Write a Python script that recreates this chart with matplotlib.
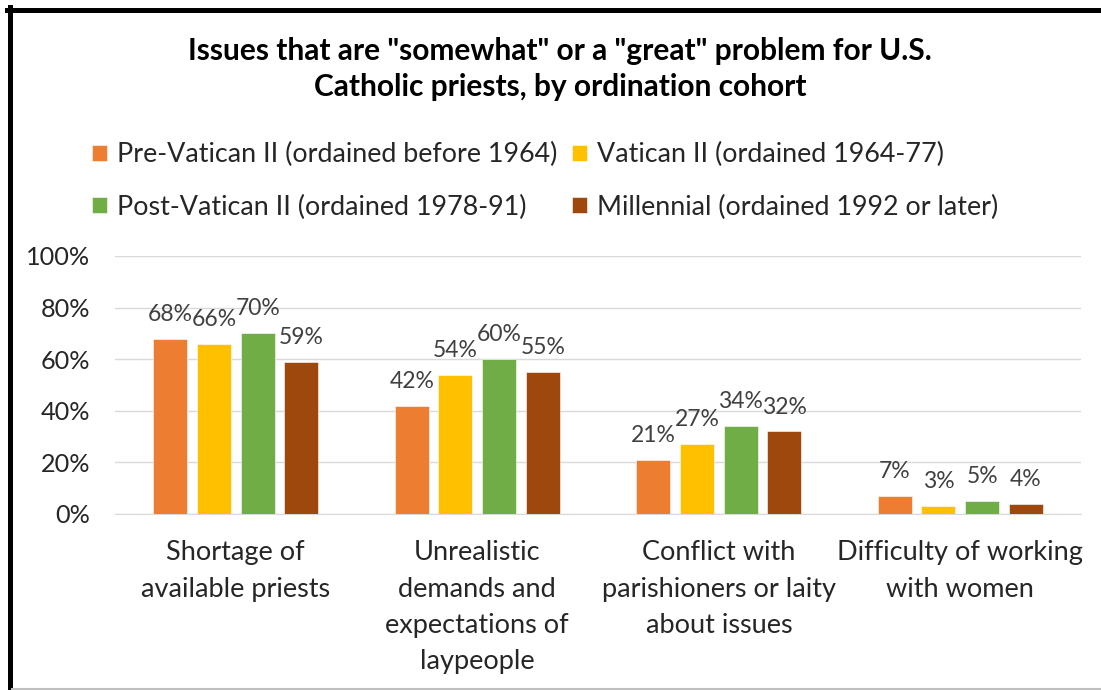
import numpy as np
import matplotlib
matplotlib.use('Agg')
import matplotlib.pyplot as plt
from matplotlib.lines import Line2D

plt.rcParams['font.family'] = ['Lato', 'DejaVu Sans']

categories = [
    "Shortage of\navailable priests",
    "Unrealistic\ndemands and\nexpectations of\nlaypeople",
    "Conflict with\nparishioners or laity\nabout issues",
    "Difficulty of working\nwith women",
]
series_names = [
    "Pre-Vatican II (ordained before 1964)",
    "Vatican II (ordained 1964-77)",
    "Post-Vatican II (ordained 1978-91)",
    "Millennial (ordained 1992 or later)",
]
pre_vatican = [68, 42, 21, 7]
vatican = [66, 54, 27, 3]
post_vatican = [70, 60, 34, 5]
millennial = [59, 55, 32, 4]
colors = ['#ED7D31', '#FFC000', '#70AD47', '#9E480E']

values = [pre_vatican, vatican, post_vatican, millennial]

fig = plt.figure(figsize=(11.01, 6.9), dpi=100)
ax = fig.add_axes([0.1045, 0.2551, 0.8774, 0.374])

x = np.arange(len(categories))
bar_width = 0.141
step = 0.181

bars = []
for i, (name, vals) in enumerate(zip(series_names, values)):
    b = ax.bar(x + (i - 1.5) * step, vals, width=bar_width, color=colors[i],
               edgecolor='white', linewidth=0.4, label=name, zorder=3)
    bars.append(b)
    for rect, v in zip(b, vals):
        ax.annotate(f"{v}%", (rect.get_x() + rect.get_width() / 2, v),
                    xytext=(0, 10), textcoords='offset points',
                    ha='center', va='bottom', fontsize=16.5, color='#404040')

ax.set_xlim(-0.5, 3.5)
ax.set_ylim(0, 100)
ax.set_yticks(range(0, 101, 20))
ax.set_yticklabels([f"{t}%" for t in range(0, 101, 20)])
ax.set_xticks(x)
ax.set_xticklabels(categories, linespacing=1.56, va='top')
ax.tick_params(axis='y', length=0, pad=18, labelsize=18.2, labelcolor='#262626')
ax.tick_params(axis='x', length=0, pad=19, labelsize=19.5, labelcolor='#262626')
ax.grid(axis='y', color='#D9D9D9', linewidth=1, zorder=0)
for s in ['top', 'right', 'left']:
    ax.spines[s].set_visible(False)
ax.spines['bottom'].set_color('#D9D9D9')

fig.text(0.5086, 0.9, 'Issues that are "somewhat" or a "great" problem for U.S.\nCatholic priests, by ordination cohort',
         ha='center', va='center', fontsize=21.5, fontweight='bold', linespacing=1.39)

# legend is filled column by column, so reorder to get the row layout
order = [0, 2, 1, 3]
leg = fig.legend(handles=[bars[k] for k in order], labels=[series_names[k] for k in order],
                 loc='upper left', bbox_to_anchor=(0.0836, 0.794), ncol=2, frameon=False,
                 fontsize=19.4, handlelength=0.55, handleheight=0.55,
                 handletextpad=0.37, columnspacing=0.55, labelspacing=1.02,
                 borderaxespad=0, borderpad=0)
for t in leg.get_texts():
    t.set_color('#262626')

# frame around the chart
fig.add_artist(Line2D([7, 1101], [690 - 9.5, 690 - 9.5], color='black', linewidth=3.6, transform=None))
fig.add_artist(Line2D([9.5, 9.5], [0, 690 - 7], color='black', linewidth=3.6, transform=None))
fig.add_artist(Line2D([12, 1101], [1, 1], color='#BFBFBF', linewidth=1.5, transform=None))

fig.savefig('out.png', dpi=100)
